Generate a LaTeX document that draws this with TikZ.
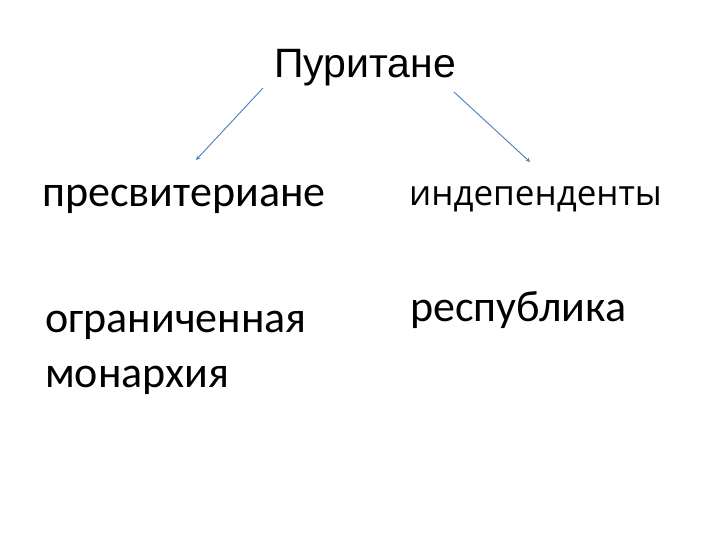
\documentclass[tikz,border=0pt]{standalone}
\usepackage{fontspec}
\setmainfont{Carlito}
\newfontfamily\titlefont{Liberation Sans}
\newfontfamily\indfont{Open Sans}
\usetikzlibrary{positioning}

\definecolor{arrowblue}{RGB}{74,126,187}

\begin{document}
\begin{tikzpicture}[x=1pt,y=1pt]
                \tikzstyle{every node}+=[inner sep=0pt, anchor=base west]
                \tikzstyle{bigtext}=[font=\fontsize{44}{55}\selectfont, align=left]
                \tikzstyle{arr}=[arrowblue, line width=0.9pt, -stealth]
                \useasboundingbox (0,0) rectangle (720,540);
                % top word
                \node (puritane) at (274,462) {\titlefont\fontsize{41}{48}\selectfont Пуритане};
                % left column
                \node [bigtext] (presb) at (42,333) {пресвитериане};
                \node [bigtext] (monarchy) at (45,152) {ограниченная\\монархия};
                % right column
                \node (indep) at (409,334) {\indfont\fontsize{35}{42}\selectfont индепенденты};
                \node [bigtext] (republic) at (410,218) {республика};
                % arrow ends
                \coordinate (presb-tip) at (196,380);
                \coordinate (indep-tip) at (530,378);
                \draw [arr] ([xshift=-11pt,yshift=-10pt]puritane.base west) -- (presb-tip);
                \draw [arr] ([xshift=180pt,yshift=-14pt]puritane.base west) -- (indep-tip);
\end{tikzpicture}
\end{document}
